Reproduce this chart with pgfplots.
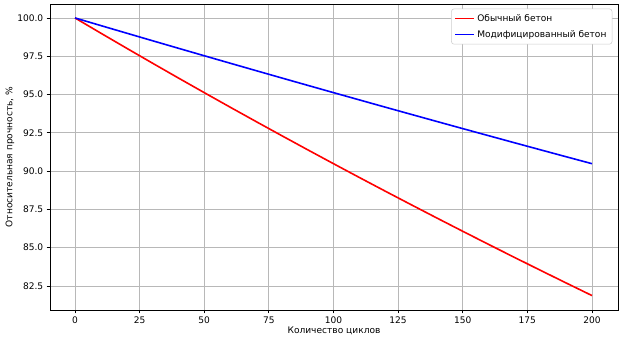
\documentclass[border=0pt]{standalone}
\usepackage{fontspec}
\setmainfont{DejaVu Sans}
\usepackage{pgfplots}
\pgfplotsset{compat=1.18}
\begin{document}
\fontsize{6.8}{8}\selectfont
\begin{tikzpicture}
\begin{axis}[
  scale only axis,
  width=426pt, height=229.5pt,
  xmin=-9.67, xmax=210.07,
  ymin=80.93, ymax=100.91,
  xtick={0,25,...,200},
  ytick={82.5,85,87.5,90,92.5,95,97.5,100},
  yticklabel style={/pgf/number format/.cd,fixed,fixed zerofill,precision=1},
  /pgf/number format/assume math mode=true,
  tick align=outside,
  tick pos=left,
  major tick length=2.6pt,
  tick style={black, line width=0.55pt},
  grid=major,
  grid style={line width=0.55pt, color=black!28},
  axis line style={line width=0.6pt},
  xlabel={Количество циклов},
  ylabel={Относительная прочность, \%},
  xlabel style={yshift=2pt},
  ylabel style={yshift=-2.5pt},
  tick label style={font=\fontsize{6.8}{8}\selectfont},
  label style={font=\fontsize{6.8}{8}\selectfont},
  legend style={at={(0.99,0.985)}, anchor=north east, draw=black!20, rounded corners=2pt, font=\fontsize{6.8}{8}\selectfont, row sep=1.5pt, inner sep=2.2pt},
  legend cell align=left,
  legend image code/.code={\draw[#1] (0pt,0pt) -- (14pt,0pt);},
]
\addplot[red, line width=1.2pt] coordinates {
(0,100) (10,99.005) (20,98.020) (30,97.045) (40,96.079) (50,95.123)
(60,94.176) (70,93.239) (80,92.312) (90,91.393) (100,90.484)
(110,89.583) (120,88.692) (130,87.810) (140,86.936) (150,86.071)
(160,85.214) (170,84.366) (180,83.527) (190,82.696) (200,81.873)};
\addlegendentry{Обычный бетон}
\addplot[blue, line width=1.2pt] coordinates {
(0,100) (10,99.501) (20,99.005) (30,98.511) (40,98.020) (50,97.531)
(60,97.045) (70,96.561) (80,96.079) (90,95.600) (100,95.123)
(110,94.649) (120,94.176) (130,93.707) (140,93.239) (150,92.774)
(160,92.312) (170,91.851) (180,91.393) (190,90.937) (200,90.484)};
\addlegendentry{Модифицированный бетон}
\end{axis}
\pgfresetboundingbox
\path (current axis.south west) ++(-37.5pt,-25.5pt) coordinate (bl);
\path (current axis.north east) ++(4.5pt,3pt) coordinate (tr);
\useasboundingbox (bl) rectangle (tr);
\end{tikzpicture}
\end{document}
